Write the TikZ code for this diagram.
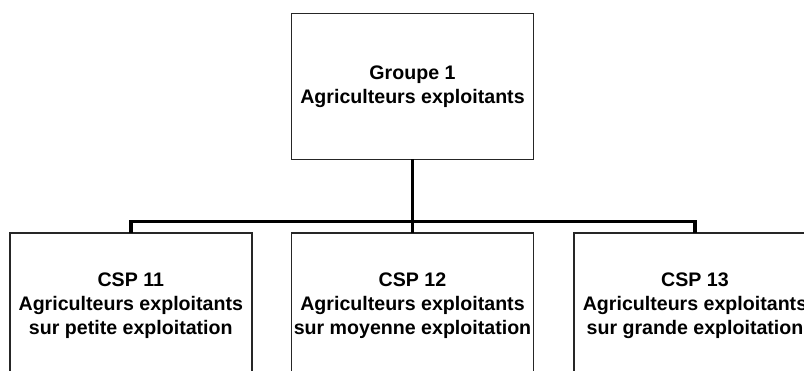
\documentclass[tikz,border=0pt]{standalone}
\usepackage{fontspec}
\setmainfont{Liberation Sans}
\usetikzlibrary{
  calc
  }

\begin{document}
\begin{tikzpicture}[x=1pt, y=-1pt]
    \useasboundingbox (0,0) rectangle (804,370);
    \clip (0,0) rectangle (804,370);
    \def\w{242}
    \def\h{146}
    \tikzset{box/.style = {draw, line width=1.5pt, black!85, text=black, rectangle, fill=white, minimum width=\w pt, minimum height=\h pt, inner sep=0pt, outer sep=0pt, align=center, font=\fontsize{19.6}{24}\selectfont\bfseries}}

    % gruppo
    \node [box] (ngroupe) at (412.5,86.3) {Groupe 1\\Agriculteurs exploitants};
    % csp
    \node [box] (ncsp11) at (130.8,306) {CSP 11\\Agriculteurs exploitants\\sur petite exploitation};
    \node [box] (ncsp12) at (412.5,306) {CSP 12\\Agriculteurs exploitants\\sur moyenne exploitation};
    \node [box] (ncsp13) at (695,306) {CSP 13\\Agriculteurs exploitants\\sur grande exploitation};

    % bus
    \coordinate (bus) at ($(ngroupe.south)+(0,62.4)$);
    \draw [line width=2.5pt] (ngroupe.south) -- (bus);
    \draw [line width=3.5pt] (ncsp11.north) |- (bus) -| (ncsp13.north);
    \draw [line width=3pt] (bus) -- (ncsp12.north);

  \end{tikzpicture}
\end{document}
